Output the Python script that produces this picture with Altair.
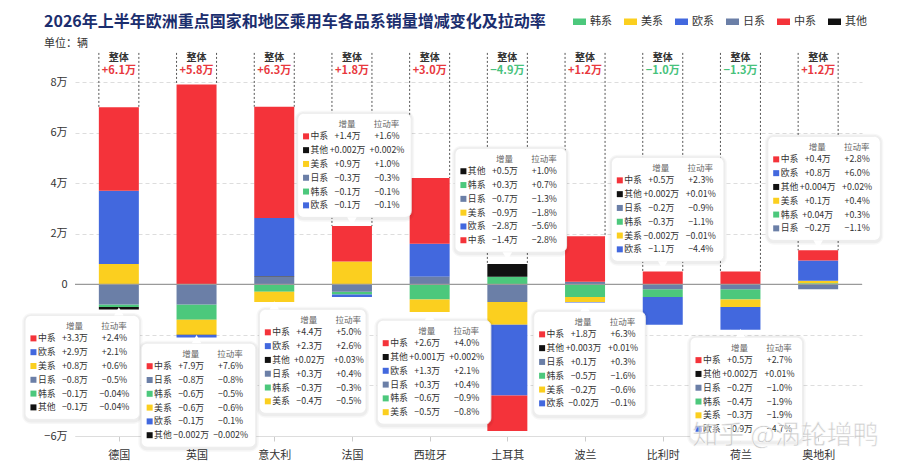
import altair as alt
import pandas as pd

FONT = "Noto Sans CJK SC"
MINUS = "\u2212"

# ---------------- data ----------------
countries = ["德国", "英国", "意大利", "法国", "西班牙", "土耳其", "波兰", "比利时", "荷兰", "奥地利"]
brands = ["韩系", "美系", "欧系", "日系", "中系", "其他"]
brand_colors = ["#4cc87c", "#fbcf1f", "#4268de", "#6b7fa7", "#f4333a", "#111111"]
stack_order = ["日系", "韩系", "美系", "其他", "欧系", "中系"]

totals = [6.1, 5.8, 6.3, 1.8, 3.0, -4.9, 1.2, -1.0, -1.3, 1.2]

# increase (万辆) per brand group, in country order
inc_cn = [3.3, 7.9, 4.4, 1.4, 2.6, -1.4, 1.8, 0.5, 0.5, 0.4]
inc_eu = [2.9, -0.1, 2.3, -0.1, 1.3, -2.8, -0.02, -1.1, -0.9, 0.8]
inc_us = [0.8, -0.6, -0.4, 0.9, -0.5, -0.9, -0.2, -0.002, -0.3, 0.1]
inc_jp = [-0.8, -0.8, 0.3, -0.3, 0.3, -0.7, 0.1, -0.2, -0.2, -0.2]
inc_kr = [-0.1, -0.6, -0.3, -0.1, -0.6, 0.3, -0.5, -0.3, -0.4, 0.04]
inc_ot = [-0.1, -0.002, 0.02, 0.002, 0.001, 0.5, 0.003, 0.002, 0.002, 0.004]

# contribution rate (%)
rate_cn = [2.4, 7.6, 5.0, 1.6, 4.0, -2.8, 6.3, 2.3, 2.7, 2.8]
rate_eu = [2.1, -0.1, 2.6, -0.1, 2.1, -5.6, -0.1, -4.4, -4.7, 6.0]
rate_us = [0.6, -0.6, -0.5, 1.0, -0.8, -1.8, -0.6, -0.01, -1.9, 0.4]
rate_jp = [-0.5, -0.8, 0.4, -0.3, 0.4, -1.3, 0.3, -0.9, -1.0, -1.1]
rate_kr = [-0.04, -0.5, -0.3, -0.1, -0.9, 0.7, -1.6, -1.1, -1.9, 0.3]
rate_ot = [-0.04, -0.002, 0.03, 0.002, 0.002, 1.0, 0.01, 0.01, 0.01, 0.02]

tip_order = [
    "中系 欧系 美系 日系 韩系 其他",
    "中系 日系 韩系 美系 欧系 其他",
    "中系 欧系 其他 日系 韩系 美系",
    "中系 其他 美系 日系 韩系 欧系",
    "中系 其他 欧系 日系 韩系 美系",
    "其他 韩系 日系 美系 欧系 中系",
    "中系 其他 日系 韩系 美系 欧系",
    "中系 其他 日系 韩系 美系 欧系",
    "中系 其他 日系 韩系 美系 欧系",
    "中系 欧系 其他 美系 韩系 日系",
]

keys = ["中系", "欧系", "美系", "日系", "韩系", "其他"]
inc = dict(zip(keys, [inc_cn, inc_eu, inc_us, inc_jp, inc_kr, inc_ot]))
rate = dict(zip(keys, [rate_cn, rate_eu, rate_us, rate_jp, rate_kr, rate_ot]))
color_of = dict(zip(brands, brand_colors))

# ---------------- layout ----------------
n = len(countries)
W, H = 787, 354
YMIN, YMAX = -6, 8
PX_X = W / n
PX_Y = H / (YMAX - YMIN)
BAR_W = 40
BOX_H = 104
box_dx = [-95, -56, -15, -55, -53, -53, -52, -52, -51, -51]   # px, box left from category centre
box_w = [116, 116, 108, 115, 115, 113, 113, 114, 114, 114]     # px
box_top = [-1.23, -2.33, -0.99, 6.76, -1.42, 5.38, -1.07, 5.02, -2.09, 5.85]  # data units


def fmt(v, unit):
    a = abs(v)
    s = f"{a:.1f}" if a >= 0.0999 else f"{a:g}"
    return ("+" if v >= 0 else MINUS) + s + unit


bar_rows = []
for i, c in enumerate(countries):
    for b in brands:
        bar_rows.append({"country": c, "xc": i + 0.5, "brand": b,
                         "inc": inc[b][i], "rank": stack_order.index(b)})
bar_df = pd.DataFrame(bar_rows)

pos_top = [sum(max(inc[b][i], 0) for b in brands) for i in range(n)]

head_df = pd.DataFrame({
    "xc": [i + 0.5 for i in range(n)],
    "lab": ["整体"] * n,
    "val": [fmt(t, "万") for t in totals],
    "hc": ["#e8383d" if t >= 0 else "#47c27c" for t in totals],
    "y1": [8.93] * n,
    "y2": [8.42] * n,
    "top": [9.15] * n,
    "bot": pos_top,
})

box_rows, txt_rows, hdr_rows, ptr_rows = [], [], [], []
for i, c in enumerate(countries):
    xc = i + 0.5
    left = xc + box_dx[i] / PX_X
    right = left + box_w[i] / PX_X
    top = box_top[i]
    bottom = top - BOX_H / PX_Y
    box_rows.append({"left": left, "right": right, "top": top, "bottom": bottom})
    above = top > pos_top[i]
    ptr_rows.append({"xc": xc, "y": bottom if above else top,
                     "shape": "triangle-down" if above else "triangle-up"})
    hy = top - 11 / PX_Y
    hdr_rows.append({"x": left + 50 / PX_X, "y": hy, "t": "增量"})
    hdr_rows.append({"x": left + 90 / PX_X, "y": hy, "t": "拉动率"})
    for k, b in enumerate(tip_order[i].split()):
        y = top - (23 + 13.8 * k) / PX_Y
        txt_rows.append({
            "xs": left + 8.5 / PX_X, "xn": left + 13 / PX_X,
            "xv": left + 50.5 / PX_X, "xr": left + 90.5 / PX_X, "y": y,
            "name": b, "hex": color_of[b],
            "v": fmt(inc[b][i], "万"), "r": fmt(rate[b][i], "%"),
        })
box_df = pd.DataFrame(box_rows)
txt_df = pd.DataFrame(txt_rows)
hdr_df = pd.DataFrame(hdr_rows)
ptr_df = pd.DataFrame(ptr_rows)

# ---------------- chart ----------------
x_scale = alt.Scale(domain=[0, n], nice=False, zero=False)
y_scale = alt.Scale(domain=[YMIN, YMAX], nice=False, zero=False)

x_label_expr = "[" + ",".join(f"'{c}'" for c in countries) + "][floor(datum.value)]"
y_label_expr = ("datum.value == 0 ? '0' : (datum.value < 0 ? '" + MINUS +
                "' + abs(datum.value) + '万' : datum.value + '万')")

x_axis = alt.Axis(values=[i + 0.5 for i in range(n)], labelExpr=x_label_expr, title=None,
                  grid=False, domainColor="#dddddd", tickColor="#cccccc", tickSize=5,
                  labelPadding=8, labelFontSize=11, labelColor="#333333")
y_axis = alt.Axis(values=list(range(YMIN, YMAX + 1, 2)), labelExpr=y_label_expr, title=None,
                  grid=True, gridColor="#dddddd", gridDash=[4, 3], domain=False, ticks=False,
                  labelPadding=8, labelFontSize=11, labelColor="#333333")


def X(field):
    return alt.X(field, scale=x_scale, axis=x_axis)


def Y(field, **kw):
    return alt.Y(field, scale=y_scale, axis=y_axis, **kw)


legend = alt.Legend(orient="none", legendX=498, legendY=-67, direction="horizontal",
                    title=None, symbolType="M-1,-0.5H1V0.5H-1Z", symbolSize=169,
                    symbolStrokeWidth=0, labelFontSize=11, labelColor="#333333",
                    columnPadding=12, labelOffset=4)

bars = alt.Chart(bar_df).mark_bar(size=BAR_W, orient="vertical").encode(
    x=X("xc:Q"),
    y=Y("inc:Q", stack="zero"),
    color=alt.Color("brand:N", scale=alt.Scale(domain=brands, range=brand_colors), legend=legend),
    order=alt.Order("rank:Q", sort="ascending"),
)

zero = alt.Chart(pd.DataFrame({"y": [0]})).mark_rule(color="#9a9a9a", strokeWidth=1.2).encode(
    y=Y("y:Q")
)


def guide(off):
    return alt.Chart(head_df).mark_rule(xOffset=off, strokeDash=[2, 2], color="#555555",
                                        strokeWidth=1).encode(
        x=X("xc:Q"), y=Y("top:Q"), y2="bot:Q",
    )


head1 = alt.Chart(head_df).mark_text(fontSize=10, fontWeight="bold", color="#333333",
                                     baseline="middle").encode(
    x=X("xc:Q"), y=Y("y1:Q"), text="lab:N",
)
head2 = alt.Chart(head_df).mark_text(fontSize=11, fontWeight="bold", baseline="middle").encode(
    x=X("xc:Q"), y=Y("y2:Q"), text="val:N",
    color=alt.Color("hc:N", scale=None),
)


def box_layer(fill, opacity, grow, radius):
    return alt.Chart(box_df).mark_rect(
        color=fill, opacity=opacity, cornerRadius=radius,
        xOffset=-grow, x2Offset=grow, yOffset=-grow + 0.5, y2Offset=grow + 1.5).encode(
        x=X("left:Q"), x2="right:Q", y=Y("top:Q"), y2="bottom:Q",
    )


shadow1 = box_layer("#000000", 0.03, 3, 9)
shadow2 = box_layer("#000000", 0.04, 1.5, 7)
box = alt.Chart(box_df).mark_rect(color="white", stroke="#ededed", strokeWidth=1,
                                  cornerRadius=6).encode(
    x=X("left:Q"), x2="right:Q", y=Y("top:Q"), y2="bottom:Q",
)


def pointer(shape, off):
    d = ptr_df[ptr_df["shape"] == shape]
    return alt.Chart(d).mark_point(shape=shape, filled=True, color="white", opacity=1,
                                   size=90, yOffset=off).encode(
        x=X("xc:Q"), y=Y("y:Q"),
    )


hdr = alt.Chart(hdr_df).mark_text(fontSize=8.5, color="#666666", baseline="middle").encode(
    x=X("x:Q"), y=Y("y:Q"), text="t:N",
)
squares = alt.Chart(txt_df).mark_square(size=36, opacity=1).encode(
    x=X("xs:Q"), y=Y("y:Q"), color=alt.Color("hex:N", scale=None),
)
names = alt.Chart(txt_df).mark_text(fontSize=8.8, color="#333333", align="left",
                                    baseline="middle").encode(
    x=X("xn:Q"), y=Y("y:Q"), text="name:N",
)
vals = alt.Chart(txt_df).mark_text(fontSize=8.8, color="#333333", baseline="middle").encode(
    x=X("xv:Q"), y=Y("y:Q"), text="v:N",
)
rates = alt.Chart(txt_df).mark_text(fontSize=8.8, color="#333333", baseline="middle").encode(
    x=X("xr:Q"), y=Y("y:Q"), text="r:N",
)

wm = alt.Chart(pd.DataFrame({"x": [9.08], "y": [-6.0], "t": ["知乎 @涡轮增鸭"]})).mark_text(
    fontSize=26, color="#bdbdbd", opacity=0.75, stroke="white", strokeWidth=0.6,
    baseline="middle").encode(
    x=X("x:Q"), y=Y("y:Q"), text="t:N",
)

chart = alt.layer(
    bars, zero, guide(-BAR_W / 2), guide(BAR_W / 2), head1, head2,
    shadow1, shadow2, box, pointer("triangle-up", -4), pointer("triangle-down", 4),
    hdr, squares, names, vals, rates, wm,
).properties(
    width=W, height=H,
    padding={"left": 67, "top": 74, "right": 30, "bottom": 30},
    autosize=alt.AutoSizeParams(type="none"),
    title=alt.TitleParams(
        text="2026年上半年欧洲重点国家和地区乘用车各品系销量增减变化及拉动率",
        subtitle="单位：辆", anchor="start", frame="group", dx=-31, offset=-34,
        fontSize=16, fontWeight="bold", color="#1b2e6e", font=FONT,
        subtitleFontSize=11, subtitleColor="#333333", subtitleFont=FONT, subtitlePadding=8,
    ),
).configure(font=FONT).configure_view(stroke=None)

chart.save("out.html", embed_options={"renderer": "svg", "actions": False})
